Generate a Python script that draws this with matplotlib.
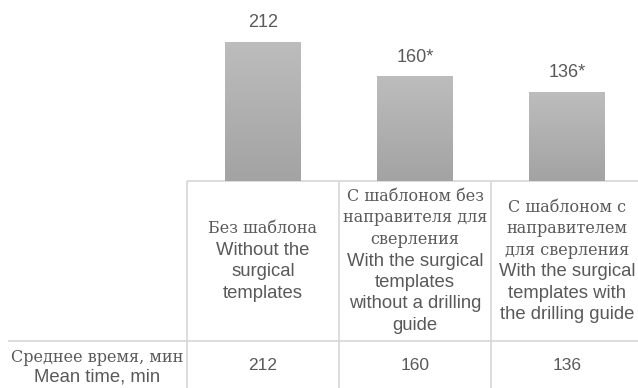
import numpy as np
import matplotlib
matplotlib.use("Agg")
import matplotlib.pyplot as plt
from matplotlib.transforms import blended_transform_factory
from matplotlib.colors import LinearSegmentedColormap

# Data
groups_ru = [
    ["Без шаблона"],
    ["С шаблоном без", "направителя для", "сверления"],
    ["С шаблоном с", "направителем", "для сверления"],
]
groups_en = [
    ["Without the", "surgical", "templates"],
    ["With the surgical", "templates", "without a drilling", "guide"],
    ["With the surgical", "templates with", "the drilling guide"],
]
mean_time = [212, 160, 136]
significance = ["", "*", "*"]
row_label_ru = "Среднее время, мин"
row_label_en = "Mean time, min"

W, H = 638, 388
fig = plt.figure(figsize=(W / 100, H / 100), dpi=100)
fig.patch.set_facecolor("white")

# Overlay in pixel coordinates for the table grid and text
tab = fig.add_axes([0, 0, 1, 1])
tab.set_xlim(0, W)
tab.set_ylim(H, 0)
tab.axis("off")

# Bar area sits above the table, aligned with its columns
col_w = 152.0
col0_center = 263.0
table_top = 181.0
left_px = col0_center - col_w / 2
ax = fig.add_axes([left_px / W, (H - table_top) / H, (W - left_px) / W, table_top / H])
ax.set_xlim(-0.5, (W - col0_center) / col_w)
ax.set_ylim(0, 276)
ax.axis("off")

x = np.arange(len(mean_time))
bars = ax.bar(x, mean_time, width=0.5, color="#b0b0b0", edgecolor="none", zorder=1)

grad = LinearSegmentedColormap.from_list("g", ["#a3a3a3", "#bdbdbd"])
ramp = np.linspace(0, 1, 256).reshape(-1, 1)
for b in bars:
    x0, w, h = b.get_x(), b.get_width(), b.get_height()
    im = ax.imshow(ramp, cmap=grad, aspect="auto", origin="lower",
                   extent=[x0, x0 + w, 0, h], zorder=2)
    im.set_clip_path(b)

ax.set_xlim(-0.5, (W - col0_center) / col_w)
ax.set_ylim(0, 276)

text_color = "#595959"
for xi, v, s in zip(x, mean_time, significance):
    ax.annotate(f"{v}{s}", (xi, v), xytext=(0, 19), textcoords="offset pixels",
                ha="center", va="center", fontsize=13, color=text_color,
                family="Liberation Sans")

# Table grid
line_kw = dict(color="#d6d6d6", lw=1.2, solid_capstyle="butt")
row_top = 341.0
tab.plot([left_px, W], [table_top, table_top], **line_kw)
tab.plot([8, W], [row_top, row_top], **line_kw)
for i in range(len(mean_time)):
    xl = left_px + i * col_w
    tab.plot([xl, xl], [table_top, H], **line_kw)

# Column headers: category index on x, pixel rows on y
hdr = blended_transform_factory(ax.transData, tab.transData)
step = 21.5
mid = (table_top + row_top) / 2
for i, (ru, en) in enumerate(zip(groups_ru, groups_en)):
    lines = [(t, "DejaVu Serif", 11.5) for t in ru] + [(t, "Liberation Sans", 13.3) for t in en]
    n = len(lines)
    for k, (t, fam, fs) in enumerate(lines):
        yk = mid + (k - (n - 1) / 2) * step
        tab.text(i, yk, t, transform=hdr, ha="center", va="center",
                 family=fam, fontsize=fs, color=text_color)

# Value row
tab.text(97, 357, row_label_ru, ha="center", va="center", family="DejaVu Serif",
         fontsize=11.5, color=text_color)
tab.text(97, 377, row_label_en, ha="center", va="center", family="Liberation Sans",
         fontsize=13.3, color=text_color)
for i, v in enumerate(mean_time):
    tab.text(i, 366, f"{v}", transform=hdr, ha="center", va="center",
             family="Liberation Sans", fontsize=12.5, color=text_color)

fig.savefig("out.png", dpi=100, facecolor="white")
